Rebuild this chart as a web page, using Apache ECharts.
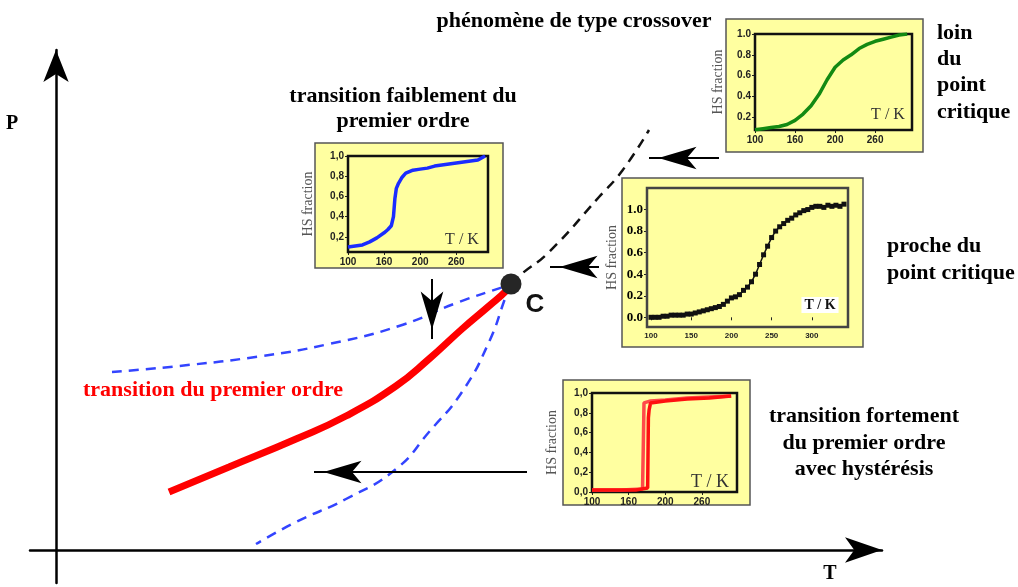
<!DOCTYPE html>
<html><head><meta charset="utf-8">
<script src="https://cdn.jsdelivr.net/npm/echarts@6/dist/echarts.min.js"></script>
<style>html,body{margin:0;padding:0;background:#fff}#c{width:1018px;height:587px}</style>
</head><body><div id="c"></div>
<script>
// ---------- main phase diagram (T, P) in schematic units ----------
const firstOrderLine = [[113,58],[173,83],[240,111],[290,134],[340,164],[373,191],[406,221],[433,244],[450,259],[455,266]];
const spinodalUpper  = [[56,178],[123,184],[206,194],[273,206],[343,224],[403,248],[450,264],[455,266]];
const spinodalLower  = [[455,266],[450,254],[433,208],[406,158],[373,118],[340,81],[290,51],[240,28],[200,6]];
const crossoverLine  = [[455,266],[463,274],[493,298],[543,353],[566,379],[593,420]];
const criticalPoint  = [[455,266]];
// arrows: [from, to]
const arrows = [
  [[663,392],[593,392]],
  [[543,283],[494,283]],
  [[471,78],[258,78]],
  [[376,271],[376,211]]
];

// ---------- insets: HS fraction vs T/K ----------
const greenCurve = [[100,0.08],[110,0.09],[120,0.10],[130,0.11],[140,0.13],[150,0.17],[160,0.23],[170,0.31],[180,0.42],[190,0.56],[200,0.68],[210,0.75],[220,0.80],[230,0.86],[240,0.90],[250,0.93],[260,0.95],[270,0.97],[280,0.99],[290,1.00]];
const blueCurve = [[100,0.10],[110,0.11],[120,0.12],[130,0.15],[140,0.19],[150,0.24],[155,0.27],[160,0.31],[163,0.40],[165,0.58],[167,0.68],[170,0.73],[175,0.79],[180,0.83],[190,0.86],[200,0.87],[210,0.88],[220,0.90],[230,0.91],[240,0.92],[250,0.93],[260,0.94],[270,0.95],[280,0.96],[285,0.98],[290,1.00]];
const blackCurve = [[100,0.00],[105,0.00],[110,0.00],[115,0.01],[120,0.01],[125,0.02],[130,0.02],[135,0.02],[140,0.02],[145,0.03],[150,0.03],[155,0.04],[160,0.05],[165,0.06],[170,0.07],[175,0.08],[180,0.09],[185,0.10],[190,0.12],[195,0.15],[200,0.18],[205,0.19],[210,0.21],[215,0.25],[220,0.28],[225,0.33],[230,0.40],[235,0.49],[240,0.58],[245,0.66],[250,0.74],[255,0.80],[260,0.84],[265,0.87],[270,0.90],[275,0.92],[280,0.95],[285,0.97],[290,0.99],[295,1.00],[300,1.02],[305,1.03],[310,1.03],[315,1.02],[320,1.04],[325,1.03],[330,1.04],[335,1.03],[340,1.05]];
const redCooling = [[290,0.97],[260,0.96],[230,0.95],[200,0.93],[180,0.92],[171,0.90],[170,0.45],[169,0.03],[140,0.02],[120,0.02],[100,0.02]];
const redHeating = [[100,0.02],[130,0.02],[160,0.02],[176,0.04],[177,0.75],[178,0.83],[180,0.90],[200,0.92],[230,0.94],[260,0.95],[290,0.97]];

const insetXTicks = [100,150,200,250];
const insetXTickLabels = ['100','160','200','260'];
const blackXTicks = [100,150,200,250,300];
const blackXTickLabels = ['100','150','200','250','300'];
const fractionTicks = [0.2,0.4,0.6,0.8,1.0];
const fractionTicksWithZero = [0.0,0.2,0.4,0.6,0.8,1.0];

const SERIF = '"Liberation Serif","Times New Roman",serif';
const SANS = '"Liberation Sans",Arial,sans-serif';
const YELLOW = '#FFFFA0';

function labelMap(vals, labels){ const m = {}; vals.forEach((v,i)=>m[v]=labels[i]); return v => (m[v] !== undefined ? m[v] : String(v)); }
const dotFmt = v => v.toFixed(1);
const commaFmt = v => v.toFixed(1).replace('.', ',');

const insets = [
  {grid:{left:755,top:34,width:157,height:96}, x:[100,296], y:[0.077,1.0], xt:insetXTicks, xl:insetXTickLabels, yt:fractionTicks, yf:dotFmt, data:[greenCurve], color:['#138a13'], yFont:{fontFamily:SANS,fontWeight:'bold',fontSize:10,color:'#222'}, xFont:{fontFamily:SANS,fontWeight:'bold',fontSize:10,color:'#222'}, border:'#111', nameGap:30},
  {grid:{left:348,top:156,width:140,height:96}, x:[100,294], y:[0.05,1.0], xt:insetXTicks, xl:insetXTickLabels, yt:fractionTicks, yf:commaFmt, data:[blueCurve], color:['#1a2cff'], yFont:{fontFamily:SANS,fontWeight:'bold',fontSize:10,color:'#222'}, xFont:{fontFamily:SANS,fontWeight:'bold',fontSize:10,color:'#222'}, border:'#111', nameGap:33},
  {grid:{left:647,top:188,width:201,height:139}, x:[95,345], y:[-0.09,1.2], xt:blackXTicks, xl:blackXTickLabels, yt:fractionTicksWithZero, yf:dotFmt, data:[blackCurve], color:['#111'], yFont:{fontFamily:SERIF,fontWeight:'bold',fontSize:13,color:'#000'}, xFont:{fontFamily:SANS,fontWeight:'bold',fontSize:8,color:'#222'}, border:'#444', nameGap:28, rect:true},
  {grid:{left:592,top:393,width:145,height:99}, x:[100,298], y:[0,1.0], xt:insetXTicks, xl:insetXTickLabels, yt:fractionTicksWithZero, yf:commaFmt, data:[redCooling, redHeating], color:['#ff4a4a','#ff1010'], yFont:{fontFamily:SANS,fontWeight:'bold',fontSize:10,color:'#222'}, xFont:{fontFamily:SANS,fontWeight:'bold',fontSize:10,color:'#222'}, border:'#111', nameGap:33}
];

const grids = [{left:30, right:136, top:50, bottom:4}];
const xAxes = [{gridIndex:0, type:'value', min:-26, max:826,
  axisLine:{onZero:true, symbol:['none','arrow'], symbolSize:[19,37], lineStyle:{color:'#000', width:2.5}},
  axisTick:{show:false}, axisLabel:{show:false}, splitLine:{show:false}}];
const yAxes = [{gridIndex:0, type:'value', min:-33, max:500,
  axisLine:{onZero:true, symbol:['none','arrow'], symbolSize:[19,32], lineStyle:{color:'#000', width:2.5}},
  axisTick:{show:false}, axisLabel:{show:false}, splitLine:{show:false}}];

const series = [];
// main curves
series.push({type:'line', xAxisIndex:0, yAxisIndex:0, data:spinodalUpper, smooth:true, showSymbol:false, lineStyle:{color:'#3344ff', width:2.5, type:[10,7]}, z:3});
series.push({type:'line', xAxisIndex:0, yAxisIndex:0, data:spinodalLower, smooth:true, showSymbol:false, lineStyle:{color:'#3344ff', width:2.5, type:[10,7]}, z:3});
series.push({type:'line', xAxisIndex:0, yAxisIndex:0, data:crossoverLine, smooth:true, showSymbol:false, lineStyle:{color:'#111', width:2.5, type:[10,7]}, z:3});
series.push({type:'line', xAxisIndex:0, yAxisIndex:0, data:firstOrderLine, smooth:true, showSymbol:false, lineStyle:{color:'#ff0000', width:7, cap:'butt'}, z:4});
series.push({type:'scatter', xAxisIndex:0, yAxisIndex:0, data:criticalPoint, symbol:'circle', symbolSize:21, itemStyle:{color:'#262626', opacity:1}, z:6});
// arrows
const HEAD_W = 17, HEAD_L = 38;
arrows.forEach(a => {
  series.push({type:'line', xAxisIndex:0, yAxisIndex:0, data:a, showSymbol:false, lineStyle:{color:'#000', width:2}, z:5});
  const dx = a[1][0]-a[0][0], dy = a[1][1]-a[0][1];
  const len = Math.hypot(dx,dy);
  const rot = Math.atan2(-dx, dy) * 180 / Math.PI;
  const off = [-(dx/len)*HEAD_L/4, (dy/len)*HEAD_L/4];
  series.push({type:'scatter', xAxisIndex:0, yAxisIndex:0, data:[{value:a[1], symbolRotate:rot, symbolOffset:off}], symbol:'arrow', symbolSize:[HEAD_W, HEAD_L], itemStyle:{color:'#000', opacity:1}, z:6});
});

// insets
insets.forEach((ins, k) => {
  const gi = k + 1;
  grids.push(Object.assign({show:true, backgroundColor:'transparent', borderColor:ins.border, borderWidth:2.5, z:1}, ins.grid));
  xAxes.push({gridIndex:gi, type:'value', min:ins.x[0], max:ins.x[1],
    axisLine:{show:false}, splitLine:{show:false},
    axisTick:{show:true, customValues:ins.xt, length:3, lineStyle:{color:'#222'}},
    axisLabel:Object.assign({customValues:ins.xt, formatter:labelMap(ins.xt, ins.xl), margin:5}, ins.xFont)});
  yAxes.push({gridIndex:gi, type:'value', min:ins.y[0], max:ins.y[1],
    name:'HS fraction', nameLocation:'middle', nameGap:ins.nameGap,
    nameTextStyle:{fontFamily:SERIF, fontSize:14, color:'#555'},
    axisLine:{show:false}, splitLine:{show:false},
    axisTick:{show:true, customValues:ins.yt, length:3, lineStyle:{color:'#222'}},
    axisLabel:Object.assign({customValues:ins.yt, formatter:ins.yf, margin:4}, ins.yFont)});
  ins.data.forEach((d, j) => {
    series.push({type:'line', xAxisIndex:gi, yAxisIndex:gi, data:d, smooth:false,
      showSymbol:!!ins.rect, symbol:'rect', symbolSize:5, showAllSymbol:true,
      lineStyle:{color:ins.color[j], width:ins.rect ? 1.5 : 3.5}, itemStyle:{color:ins.color[j], opacity:1}, z:4});
  });
});

function txt(text, x, y, opts){
  return Object.assign({type:'text', x:x, y:y, z:100, style:Object.assign({text:text, font:'bold 22px ' + SERIF, fill:'#000', align:'center', verticalAlign:'middle'}, opts||{})});
}
function panel(x, y, w, h){
  return {type:'rect', z:-1, shape:{x:x, y:y, width:w, height:h}, style:{fill:YELLOW, stroke:'#555', lineWidth:1.5}};
}

const graphics = [
  panel(726,19,197,133),
  panel(315,143,188,125),
  panel(622,178,241,169),
  panel(563,380,187,125),
  txt('phénomène de type crossover', 574, 21),
  txt('transition faiblement du', 403, 96),
  txt('premier ordre', 403, 121),
  txt('loin', 937, 33, {align:'left'}),
  txt('du', 937, 59, {align:'left'}),
  txt('point', 937, 85, {align:'left'}),
  txt('critique', 937, 112, {align:'left'}),
  txt('proche du', 887, 246, {align:'left'}),
  txt('point critique', 887, 273, {align:'left'}),
  txt('transition fortement', 864, 416),
  txt('du premier ordre', 864, 443),
  txt('avec hystérésis', 864, 469),
  txt('transition du premier ordre', 83, 390, {align:'left', fill:'#ff0000'}),
  txt('P', 12, 124, {font:'bold 20px ' + SERIF}),
  txt('T', 830, 574, {font:'bold 20px ' + SERIF}),
  txt('C', 535, 305, {font:'bold 26px ' + SANS, fill:'#111'}),
  txt('T / K', 888, 115, {font:'16px ' + SERIF, fill:'#333'}),
  txt('T / K', 462, 240, {font:'16px ' + SERIF, fill:'#333'}),
  txt('T / K', 820, 305, {font:'bold 14px ' + SERIF, fill:'#111', backgroundColor:'#fff', padding:[1,3]}),
  txt('T / K', 710, 482, {font:'18px ' + SERIF, fill:'#333'})
];

const chart = echarts.init(document.getElementById('c'));
chart.setOption({
  animation:false,
  backgroundColor:'#fff',
  grid:grids, xAxis:xAxes, yAxis:yAxes, series:series, graphic:graphics
});
</script></body></html>
